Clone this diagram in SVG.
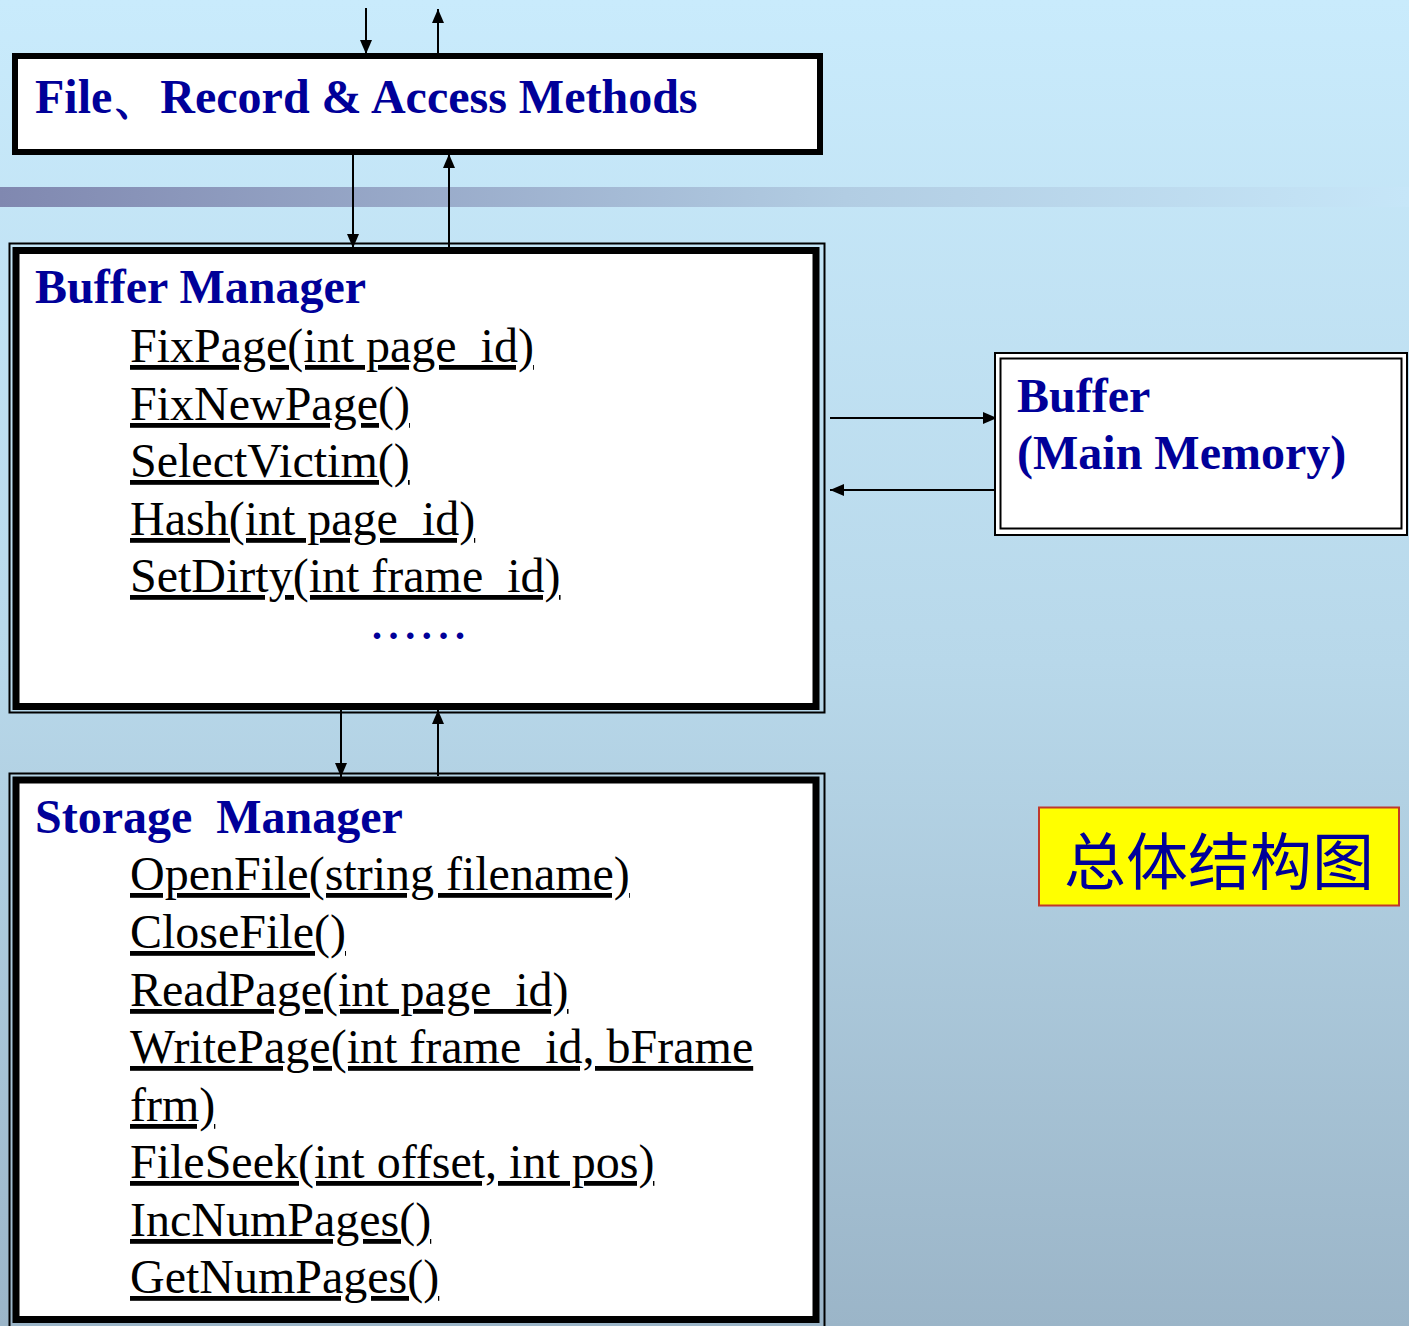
<svg xmlns="http://www.w3.org/2000/svg" width="1409" height="1326" viewBox="0 0 1409 1326">
<defs>
<linearGradient id="bg" x1="0" y1="0" x2="0" y2="1">
<stop offset="0" stop-color="#c9ebfc"/>
<stop offset="0.5" stop-color="#b8d8ea"/>
<stop offset="1" stop-color="#9bb5c8"/>
</linearGradient>
<linearGradient id="band" x1="0" y1="0" x2="1" y2="0">
<stop offset="0" stop-color="#8088b0"/>
<stop offset="0.6" stop-color="#b2cde3"/>
<stop offset="1" stop-color="#c6e6f8"/>
</linearGradient>
<marker id="ah" markerUnits="userSpaceOnUse" markerWidth="14" markerHeight="12" refX="14" refY="6" orient="auto">
<path d="M0,0 L14,6 L0,12 z" fill="#000"/>
</marker>
<style>
.head{font-family:"Liberation Serif","Times New Roman",serif;font-weight:bold;font-size:48px;fill:#000099}
.m{font-family:"Liberation Serif","Times New Roman",serif;font-size:48px;fill:#000;text-decoration:underline;text-decoration-skip-ink:none}
.dots{font-family:"Liberation Serif","Times New Roman",serif;font-weight:bold;font-size:40px;fill:#000099;letter-spacing:6.6px}
.conn{stroke:#000;stroke-width:2;fill:none;marker-end:url(#ah)}
.thin{fill:none;stroke:#000;stroke-width:2}
.thick{fill:#fff;stroke:#000;stroke-width:7}
</style>
</defs>
<rect x="0" y="0" width="1409" height="1326" fill="url(#bg)"/>
<rect x="0" y="187" width="1409" height="20" fill="url(#band)"/>

<g id="connectors">
<line class="conn" x1="366" y1="8" x2="366" y2="54"/>
<line class="conn" x1="438" y1="53" x2="438" y2="9"/>
<line class="conn" x1="353" y1="155" x2="353" y2="248"/>
<line class="conn" x1="449" y1="247" x2="449" y2="154"/>
<line class="conn" x1="341" y1="710" x2="341" y2="777"/>
<line class="conn" x1="438" y1="776" x2="438" y2="710"/>
<line class="conn" x1="830" y1="418" x2="997" y2="418"/>
<line class="conn" x1="997" y1="490" x2="830" y2="490"/>
</g>

<g id="file-record">
<rect x="15" y="56" width="805" height="96" fill="#fff" stroke="#000" stroke-width="6"/>
<text class="head" x="35" y="113">File、Record &amp; Access Methods</text>
</g>

<g id="buffer-manager">
<rect class="thin" x="9.5" y="243.5" width="815" height="469"/>
<rect class="thick" x="16" y="250.5" width="800" height="456"/>
<text class="head" x="35" y="303">Buffer Manager</text>
<text class="m" x="130" y="362">FixPage(int page_id)</text>
<text class="m" x="130" y="420">FixNewPage()</text>
<text class="m" x="130" y="477">SelectVictim()</text>
<text class="m" x="130" y="535">Hash(int page_id)</text>
<text class="m" x="130" y="592">SetDirty(int frame_id)</text>
<text class="dots" x="372" y="639">......</text>
</g>

<g id="storage-manager">
<rect class="thin" x="9.5" y="773.5" width="815" height="560"/>
<rect class="thick" x="16" y="780" width="800" height="539.5"/>
<text class="head" x="35" y="833" xml:space="preserve">Storage  Manager</text>
<text class="m" x="130" y="890">OpenFile(string filename)</text>
<text class="m" x="130" y="948">CloseFile()</text>
<text class="m" x="130" y="1006">ReadPage(int page_id)</text>
<text class="m" x="130" y="1063">WritePage(int frame_id, bFrame</text>
<text class="m" x="130" y="1121">frm)</text>
<text class="m" x="130" y="1178">FileSeek(int offset, int pos)</text>
<text class="m" x="130" y="1236">IncNumPages()</text>
<text class="m" x="130" y="1293">GetNumPages()</text>
</g>

<g id="buffer-memory">
<rect x="995" y="353" width="412" height="182" fill="#fff" stroke="#000" stroke-width="2"/>
<rect x="1000.5" y="358.5" width="401" height="170" fill="#fff" stroke="#000" stroke-width="2"/>
<text class="head" x="1017" y="412">Buffer</text>
<text class="head" x="1017" y="469">(Main Memory)</text>
</g>

<g id="title-label">
<rect x="1039" y="807.5" width="360" height="98" fill="#ffff00" stroke="#c0392b" stroke-width="2"/>
<text x="1219" y="885" text-anchor="middle" font-family="'Noto Sans CJK SC','Noto Sans',sans-serif" font-size="62" fill="#000099">总体结构图</text>
</g>
</svg>
